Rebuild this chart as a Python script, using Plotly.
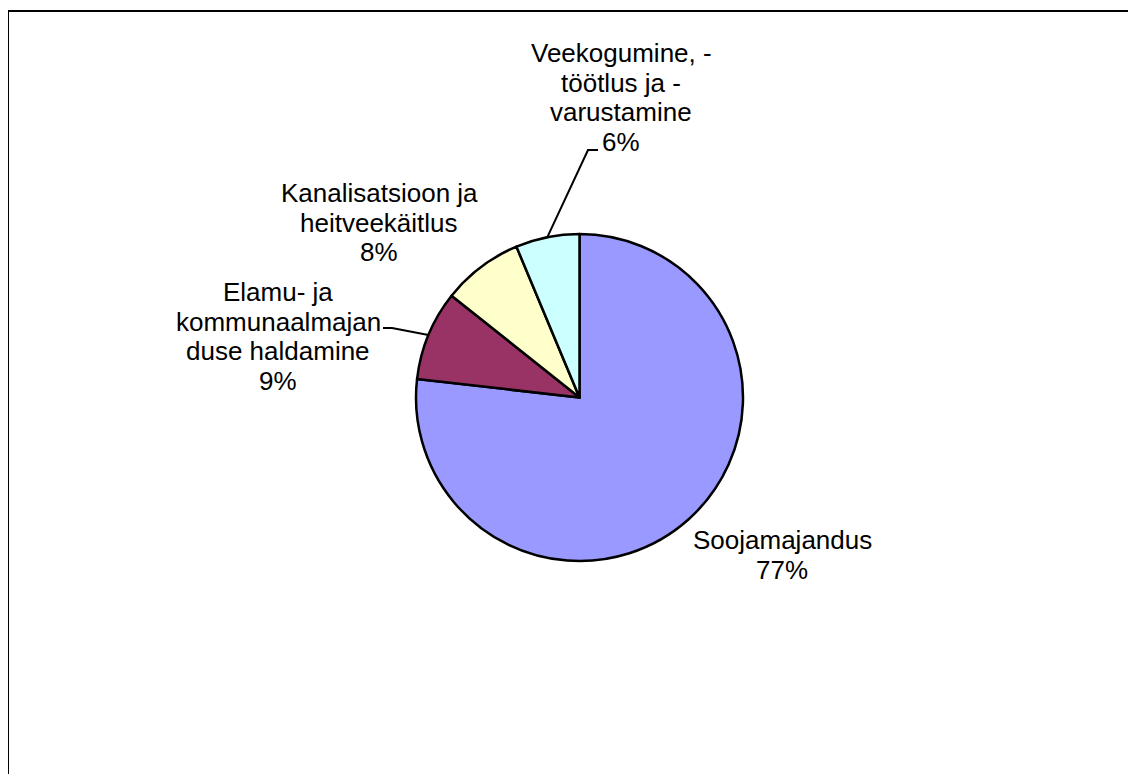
import math
import plotly.graph_objects as go

# ---- data ----
categories = [
    "Soojamajandus",
    "Elamu- ja kommunaalmajanduse haldamine",
    "Kanalisatsioon ja heitveekäitlus",
    "Veekogumine, -töötlus ja -varustamine",
]
shares = [76.8, 8.9, 8.0, 6.3]
colors = ["#9999FF", "#993366", "#FFFFCC", "#CCFFFF"]
# category text as it wraps in the chart
label_lines = [
    ["Soojamajandus"],
    ["Elamu- ja", "kommunaalmajan", "duse haldamine"],
    ["Kanalisatsioon ja", "heitveekäitlus"],
    ["Veekogumine, -", "töötlus ja -", "varustamine"],
]

# ---- layout (pixels of the browser window) ----
VW, VH = 1136, 774
OFF = 8  # page body margin
W, H = VW - OFF, VH - OFF  # figure size so the page does not scroll
cx, cy, R = 579.5, 397.5, 163.5
label_pos = [(782, 540), (278, 292), (379, 193), (621, 53)]  # centre x, first line y
line_gap = 29.5
leader = {1: [(383, 328), (392, 328)], 3: [(598, 150), (588, 150)]}
FONT = "Liberation Sans, Arial, sans-serif"
FS = 26

total = sum(shares)
fig = go.Figure()
fig.add_trace(go.Pie(
    labels=categories, values=shares, sort=False, direction="clockwise",
    rotation=0, textinfo="none", hoverinfo="label+percent", showlegend=False,
    marker=dict(colors=colors, line=dict(color="black", width=2.5)),
    domain=dict(x=[(cx - R - OFF) / W, (cx + R - OFF) / W],
                y=[1 - (cy + R - OFF) / H, 1 - (cy - R - OFF) / H]),
))

annotations = []
cum = 0.0
for i, v in enumerate(shares):
    mid = cum + v / 2
    cum += v
    lines = label_lines[i] + [f"{round(100 * v / total)}%"]
    lx, ly = label_pos[i]
    for k, t in enumerate(lines):
        annotations.append(dict(
            x=lx, y=ly + k * line_gap, xref="x", yref="y", text=t, showarrow=False,
            xanchor="center", yanchor="middle", font=dict(family=FONT, size=FS, color="black"),
        ))
    if i in leader:
        th = 2 * math.pi * mid / total
        ex, ey = cx + R * math.sin(th), cy - R * math.cos(th)
        pts = leader[i] + [(ex, ey)]
        fig.add_trace(go.Scatter(
            x=[p[0] for p in pts], y=[p[1] for p in pts], mode="lines",
            line=dict(color="black", width=2), hoverinfo="skip", showlegend=False,
        ))

# frame (top and left edges visible)
fig.add_trace(go.Scatter(x=[8, 8, VW + 20], y=[VH + 20, 11, 11], mode="lines",
                         line=dict(color="black", width=2), hoverinfo="skip", showlegend=False))

fig.update_layout(
    width=W, height=H, margin=dict(l=0, r=0, t=0, b=0),
    paper_bgcolor="white", plot_bgcolor="rgba(0,0,0,0)",
    xaxis=dict(range=[OFF, OFF + W], visible=False, fixedrange=True),
    yaxis=dict(range=[OFF + H, OFF], visible=False, fixedrange=True),
    annotations=annotations, showlegend=False,
)
fig.write_html("out.html")
